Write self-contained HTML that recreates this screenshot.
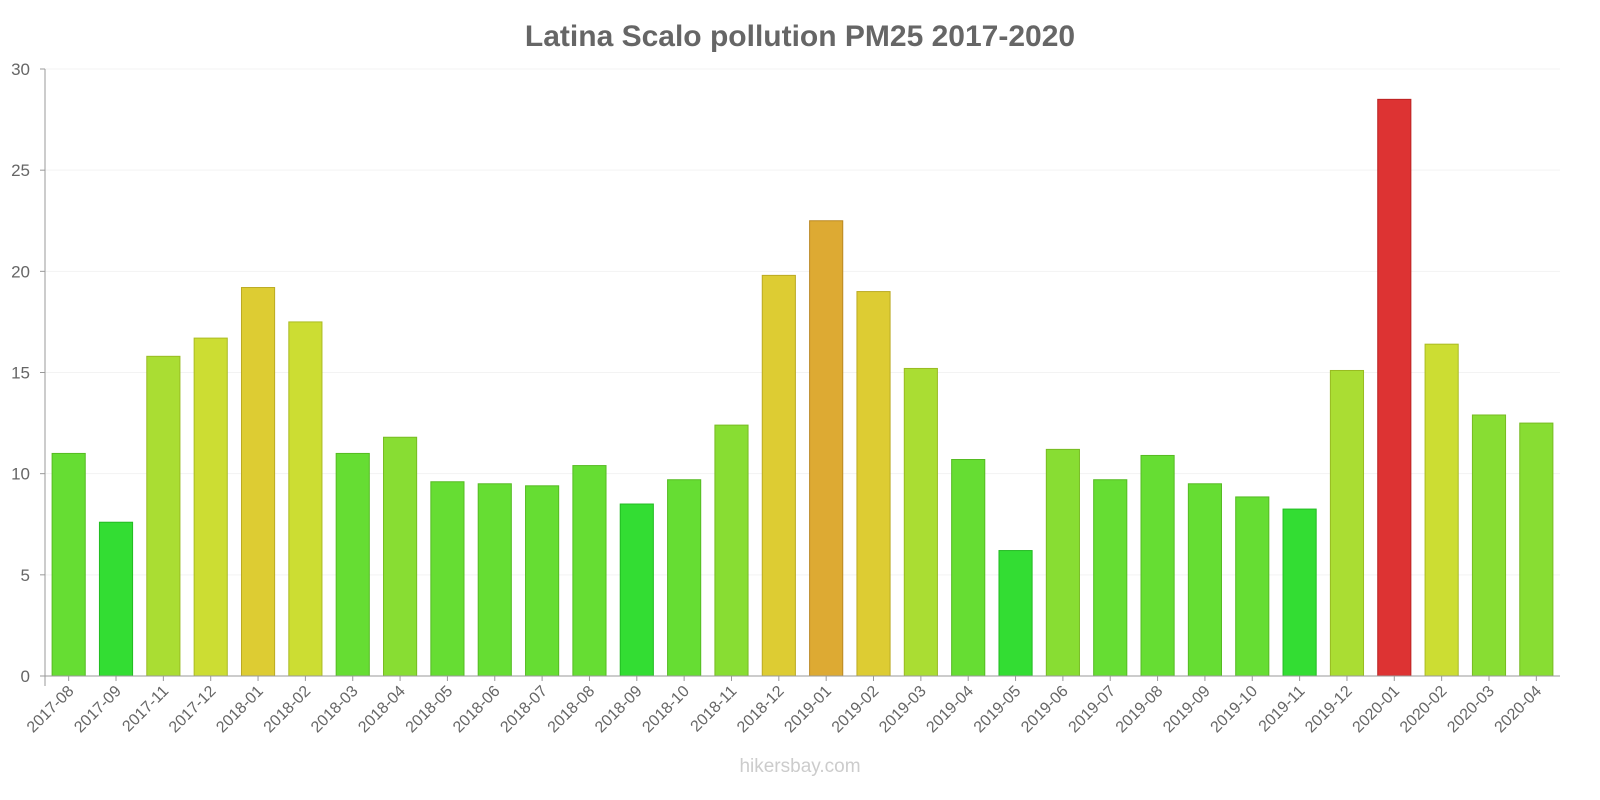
<!DOCTYPE html>
<html><head><meta charset="utf-8"><style>
html,body{margin:0;padding:0;background:#fff;width:1600px;height:800px;overflow:hidden}
svg{display:block;font-family:"Liberation Sans",sans-serif}
</style></head><body>
<svg id="chart" width="1600" height="800">
<text x="800" y="46" text-anchor="middle" font-size="30" font-weight="bold" fill="#666">Latina Scalo pollution PM25 2017-2020</text>
<text x="800" y="772" text-anchor="middle" font-size="19" fill="#ccc">hikersbay.com</text>
<g id="grid"></g><g id="bars"></g><g id="axes"></g>
</svg>
<script>
const categories=["2017-08","2017-09","2017-11","2017-12","2018-01","2018-02","2018-03","2018-04","2018-05","2018-06","2018-07","2018-08","2018-09","2018-10","2018-11","2018-12","2019-01","2019-02","2019-03","2019-04","2019-05","2019-06","2019-07","2019-08","2019-09","2019-10","2019-11","2019-12","2020-01","2020-02","2020-03","2020-04"];
const values=[11.0,7.6,15.8,16.7,19.2,17.5,11.0,11.8,9.6,9.5,9.4,10.4,8.5,9.7,12.4,19.8,22.5,19.0,15.2,10.7,6.2,11.2,9.7,10.9,9.5,8.85,8.25,15.1,28.5,16.4,12.9,12.5];
const yTicks=[0,5,10,15,20,25,30];
const NS="http://www.w3.org/2000/svg";
const X0=45,X1=1560,Y0=676,Y1=69,YMAX=30;
const band=(X1-X0)/categories.length;
const y=v=>Y0-(v/YMAX)*(Y0-Y1);
const xc=i=>X0+band*(i+0.5);
function color(v){
 if(v<8.7)return["#33dd33","#22bb22"];
 if(v<11.1)return["#66dd33","#55bb22"];
 if(v<14)return["#88dd33","#77bb22"];
 if(v<16)return["#aadd33","#99bb22"];
 if(v<18)return["#ccdd33","#aabb22"];
 if(v<21)return["#ddcc33","#bbaa22"];
 if(v<25)return["#ddaa33","#bb8822"];
 return["#dd3333","#bb2222"];
}
function el(t,a,p){const e=document.createElementNS(NS,t);for(const k in a)e.setAttribute(k,a[k]);p.appendChild(e);return e;}
const grid=document.getElementById("grid"),bars=document.getElementById("bars"),axes=document.getElementById("axes");
yTicks.forEach(t=>{
 const g=el("line",{x1:X0,x2:X1,y1:y(t),y2:y(t),stroke:"#f3f3f3"},grid);
 
 
 const tk=el("line",{x1:X0-5,x2:X0,y1:y(t),y2:y(t),stroke:"#999"},axes);
 
 
 const l=el("text",{x:30,y:y(t)+6,"text-anchor":"end","font-size":17,fill:"#666"},axes);
 l.textContent=t;
 
 
});
const bw=band*0.7;
values.forEach((v,i)=>{
 const c=color(v);
 const r=el("rect",{x:xc(i)-bw/2,y:y(v),width:bw,height:Y0-y(v),fill:c[0],stroke:c[1],"stroke-width":1},bars);
 
 
 const tk=el("line",{x1:xc(i),x2:xc(i),y1:Y0,y2:Y0+5,stroke:"#999"},axes);
 
 
 const l=el("text",{x:xc(i)+6,y:Y0+16,"text-anchor":"end","font-size":16,fill:"#666",transform:`rotate(-45 ${xc(i)+6} ${Y0+16})`},axes);
 l.textContent=categories[i];
 
 
});
const ya=el("line",{x1:X0,x2:X0,y1:Y1,y2:Y0+10,stroke:"#999"},axes);


const xa=el("line",{x1:X0,x2:X1,y1:Y0,y2:Y0,stroke:"#999"},axes);


</script>
</body></html>
